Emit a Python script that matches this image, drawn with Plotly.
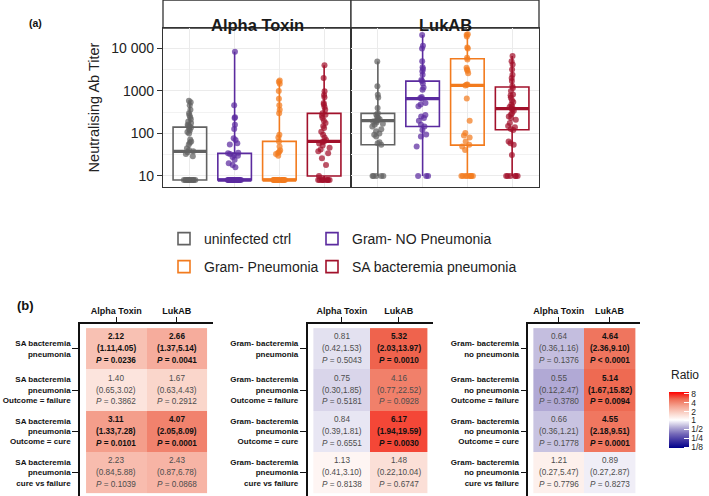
import math
import plotly.graph_objects as go

W, H = 709, 496

# ---------------- Panel (a) data ----------------
groups = ["uninfected ctrl", "Gram- NO Pneumonia", "Gram- Pneumonia", "SA bacteremia pneumonia"]
group_colors = ["#626262", "#5b2b9f", "#f27b1e", "#a2112b"]
facets = ["Alpha Toxin", "LukAB"]

at_uninfected = [8, 8, 8, 8, 8, 8, 8, 8, 8, 8, 8, 8, 29, 33, 36, 38, 41, 45, 55, 60, 65, 72,
                 100, 108, 118, 128, 137, 146, 150, 160, 175, 190, 215, 240, 267, 300, 360, 460, 540, 590]
at_gramneg_nopneu = [8, 8, 8, 8, 8, 8, 8, 8, 8, 8, 8, 8, 8, 8, 8, 8, 8, 8, 8, 8, 8,
                     16, 18, 20, 24, 28, 30, 31, 33, 34, 35, 55, 59, 70, 77, 128, 160, 230, 240, 460, 8300]
at_gramneg_pneu = [8, 8, 8, 8, 8, 8, 8, 8, 8, 8, 8, 8, 8, 8, 8, 8,
                   30, 33, 35, 37, 40, 49, 65, 80, 93, 300, 360, 460, 650, 1000, 1470, 1650, 1750]
at_sa_pneu = [8, 8, 8, 8, 8, 8, 8, 8, 8, 10, 18, 26, 34, 38, 42, 46, 52, 58, 63, 65, 70, 80, 93,
              110, 134, 150, 175, 200, 230, 260, 275, 300, 360, 420, 480, 520, 710, 800, 980, 2000, 4000]

luk_uninfected = [10, 10, 10, 10, 10, 54, 59, 62, 85, 93, 100, 112, 125, 146, 160, 170, 180, 190,
                  200, 205, 215, 230, 250, 275, 300, 395, 700, 810, 1290, 4900]
luk_gramneg_nopneu = [10, 10, 10, 49, 85, 95, 120, 146, 160, 200, 230, 250, 270, 435, 480, 520, 650,
                      680, 720, 1070, 1200, 1500, 1700, 1800, 2400, 2900, 3300, 3600, 5000, 10000,
                      11500, 20600]
luk_gramneg_pneu = [10, 10, 10, 10, 10, 10, 10, 10, 41, 49, 54, 65, 80, 90, 102, 200, 660, 1350, 1400,
                    1410, 2600, 3000, 3200, 3500, 5500, 6000, 10000, 10500, 19000, 21000, 21500]
luk_sa_pneu = [10, 10, 10, 10, 10, 10, 31, 54, 59, 65, 120, 128, 140, 150, 175, 210, 230, 250, 280,
               300, 340, 370, 390, 420, 435, 480, 550, 600, 700, 780, 820, 1000, 1170, 1300, 1700,
               2000, 2400, 3200, 4200, 5000, 6600]

# box statistics (as drawn, computed on log scale) per group
at_q1 = [8, 8, 8, 10]
at_median = [38, 8, 8, 65]
at_q3 = [141, 34, 65, 296]
at_lower = [8, 8, 8, 8]
at_upper = [590, 8300, 1750, 4000]

luk_q1 = [54, 145, 53, 122]
luk_median = [200, 660, 1350, 385]
luk_q3 = [296, 1700, 5700, 1240]
luk_lower = [10, 10, 10, 10]
luk_upper = [4900, 20600, 21500, 6600]

thresholds = [16, 20]

y_tickvals = [10, 100, 1000, 10000]
y_ticktext = ["10", "100", "1000", "10 000"]
y_minor = [31.6, 316, 3162]

# ---------------- Panel (b) data ----------------
hm_cols = ["Alpha Toxin", "LukAB"]

sa_rows = ["SA bacteremia<br>pneumonia",
           "SA bacteremia<br>pneumonia<br>Outcome = failure",
           "SA bacteremia<br>pneumonia<br>Outcome = cure",
           "SA bacteremia<br>pneumonia<br>cure vs failure"]
sa_ratio = [[2.12, 2.66], [1.40, 1.67], [3.11, 4.07], [2.23, 2.43]]
sa_lo = [[1.11, 1.37], [0.65, 0.63], [1.33, 2.05], [0.84, 0.87]]
sa_hi = [[4.05, 5.14], [3.02, 4.43], [7.28, 8.09], [5.88, 6.78]]
sa_p = [[0.0236, 0.0041], [0.3862, 0.2912], [0.0101, 0.0001], [0.1039, 0.0868]]

gp_rows = ["Gram- bacteremia<br>pneumonia",
           "Gram- bacteremia<br>pneumonia<br>Outcome = failure",
           "Gram- bacteremia<br>pneumonia<br>Outcome = cure",
           "Gram- bacteremia<br>pneumonia<br>cure vs failure"]
gp_ratio = [[0.81, 5.32], [0.75, 4.16], [0.84, 6.17], [1.13, 1.48]]
gp_lo = [[0.42, 2.03], [0.30, 0.77], [0.39, 1.94], [0.41, 0.22]]
gp_hi = [[1.53, 13.97], [1.85, 22.52], [1.81, 19.59], [3.10, 10.04]]
gp_p = [[0.5043, 0.0010], [0.5181, 0.0928], [0.6551, 0.0030], [0.8138, 0.6747]]

gn_rows = ["Gram- bacteremia<br>no pneumonia",
           "Gram- bacteremia<br>no pneumonia<br>Outcome = failure",
           "Gram- bacteremia<br>no pneumonia<br>Outcome = cure",
           "Gram- bacteremia<br>no pneumonia<br>cure vs failure"]
gn_ratio = [[0.64, 4.64], [0.55, 5.14], [0.66, 4.55], [1.21, 0.89]]
gn_lo = [[0.36, 2.36], [0.12, 1.67], [0.36, 2.18], [0.27, 0.27]]
gn_hi = [[1.16, 9.10], [2.47, 15.82], [1.21, 9.51], [5.47, 2.87]]
gn_p = [[0.1376, 0.00005], [0.3780, 0.0094], [0.1778, 0.0001], [0.7796, 0.8273]]

ratio_ticks = [8, 4, 2, 1, 1 / 2, 1 / 4, 1 / 8]
ratio_ticktext = ["8", "4", "2", "1", "1/2", "1/4", "1/8"]

# ---------------- figure ----------------
FONT = "Liberation Sans, Arial, Helvetica, sans-serif"

fig = go.Figure()

facet_points = [
    [at_uninfected, at_gramneg_nopneu, at_gramneg_pneu, at_sa_pneu],
    [luk_uninfected, luk_gramneg_nopneu, luk_gramneg_pneu, luk_sa_pneu],
]
facet_stats = [
    (at_q1, at_median, at_q3, at_lower, at_upper),
    (luk_q1, luk_median, luk_q3, luk_lower, luk_upper),
]
axis_pairs = [("x", "y"), ("x2", "y2")]
legend_ids = ["legend", "legend2", "legend3", "legend4"]

for fi, (xa, ya) in enumerate(axis_pairs):
    q1, med, q3, lo, hi = facet_stats[fi]
    for gi, g in enumerate(groups):
        col = group_colors[gi]
        # box (precomputed stats)
        fig.add_trace(go.Box(
            x=[g], q1=[q1[gi]], median=[med[gi]], q3=[q3[gi]],
            lowerfence=[lo[gi]], upperfence=[hi[gi]],
            xaxis=xa, yaxis=ya, name=g, legendgroup=g, legend=legend_ids[gi],
            showlegend=(fi == 0), boxpoints=False, width=0.75, whiskerwidth=0,
            line=dict(color=col, width=1.6), fillcolor="rgba(255,255,255,0)",
            hoverinfo="skip",
        ))
        # thicker median line
        fig.add_trace(go.Box(
            x=[g], q1=[med[gi]], median=[med[gi]], q3=[med[gi]],
            lowerfence=[med[gi]], upperfence=[med[gi]],
            xaxis=xa, yaxis=ya, name=g, legendgroup=g, showlegend=False,
            boxpoints=False, width=0.75, whiskerwidth=0,
            line=dict(color=col, width=3.2), fillcolor="rgba(255,255,255,0)",
            hoverinfo="skip",
        ))
        # jittered points
        pts = facet_points[fi][gi]
        fig.add_trace(go.Box(
            x=[g] * len(pts), y=pts, xaxis=xa, yaxis=ya, name=g, legendgroup=g,
            showlegend=False, boxpoints="all", jitter=0.42, pointpos=0, width=0.75,
            line=dict(color="rgba(0,0,0,0)", width=0), fillcolor="rgba(0,0,0,0)",
            marker=dict(color=col, size=6, opacity=0.72, line=dict(width=0)),
            hoveron="points",
        ))


def hm_block(rows, ratio, lo, hi, p, xa, ya, showscale):
    z = [[math.log2(v) for v in r] for r in ratio]
    fig.add_trace(go.Heatmap(
        z=z, x=hm_cols, y=rows, xaxis=xa, yaxis=ya,
        colorscale=[
            [0.0, "#00008B"], [0.125, "#3B30A0"], [0.25, "#7468B8"], [0.375, "#B7B0D8"],
            [0.5, "#FFFFFF"], [0.625, "#FAD3C8"], [0.75, "#F5A290"], [0.875, "#EE6A52"],
            [1.0, "#FF0000"]],
        zmin=-3.15, zmax=3.15, showscale=showscale, hoverinfo="skip",
        colorbar=dict(
            x=(669 - 10) / W, xanchor="left", y=1 - 420.5 / H, yanchor="middle",
            len=56, lenmode="pixels", thickness=20, thicknessmode="pixels",
            outlinewidth=0, ticks="inside", tickcolor="white", ticklen=5, ypad=0,
            tickvals=[math.log2(t) for t in ratio_ticks], ticktext=ratio_ticktext,
            tickfont=dict(size=8.5, family=FONT, color="#222"),
        ),
    ))
    for ri, rname in enumerate(rows):
        for ci, cname in enumerate(hm_cols):
            pv = p[ri][ci]
            sig = pv < 0.05
            ptxt = "<i>P</i> < 0.0001" if pv < 0.0001 else "<i>P</i> = %.4f" % pv
            lines = ["%.2f" % ratio[ri][ci],
                     "(%.2f,%.2f)" % (lo[ri][ci], hi[ri][ci]),
                     ptxt]
            for li, t in enumerate(lines):
                fig.add_annotation(
                    x=cname, y=rname, xref=xa, yref=ya,
                    text=("<b>%s</b>" % t) if sig else t,
                    showarrow=False, yshift=11.8 - 11.8 * li,
                    font=dict(size=8.2, family=FONT, color="#111" if sig else "#4d4d4d"),
                )


hm_block(sa_rows, sa_ratio, sa_lo, sa_hi, sa_p, "x3", "y3", True)
hm_block(gp_rows, gp_ratio, gp_lo, gp_hi, gp_p, "x4", "y4", False)
hm_block(gn_rows, gn_ratio, gn_lo, gn_hi, gn_p, "x5", "y5", False)

# ---------------- layout ----------------
grid_col = "#EBEBEB"
border = "#333333"

common_x = dict(type="category", categoryorder="array", categoryarray=groups,
                range=[-0.6, 3.6], showticklabels=False, ticks="", automargin=False,
                showgrid=True, gridcolor=grid_col, gridwidth=1,
                showline=True, mirror=True, linecolor=border, linewidth=1.3,
                zeroline=False, fixedrange=True)
common_y = dict(type="log", range=[0.74, 4.48], tickvals=y_tickvals, ticktext=y_ticktext,
                showgrid=True, gridcolor=grid_col, gridwidth=1.1, automargin=False,
                minor=dict(tickvals=y_minor, showgrid=True, gridcolor="#F2F2F2", gridwidth=0.6),
                showline=True, mirror=True, linecolor=border, linewidth=1.3,
                zeroline=False, fixedrange=True)

ya_dom = [1 - 187 / H, 1 - 28 / H]
hm_y_dom = [0, 1 - 324 / H]


def hm_x(dom):
    return dict(domain=dom, side="top", type="category", categoryorder="array",
                categoryarray=hm_cols, range=[-0.6, 1.6], ticks="outside", ticklen=5,
                tickwidth=1.3, tickcolor="#111", showline=True, linecolor="#111", linewidth=1.6,
                showgrid=False, zeroline=False, fixedrange=True, automargin=False,
                tickfont=dict(size=9, family=FONT, color="#111", weight="bold"))


def hm_y(dom, xa):
    return dict(domain=dom, anchor=xa, type="category", range=[3.57, -0.6], ticks="outside",
                ticklen=6, tickwidth=1.3, tickcolor="#111", showline=True, linecolor="#111",
                linewidth=1.6, showgrid=False, zeroline=False, fixedrange=True, automargin=False,
                tickfont=dict(size=8, family=FONT, color="#111", weight="bold"))


leg_common = dict(orientation="h", xanchor="left", yanchor="middle",
                  font=dict(size=14, color="#222", family=FONT),
                  bgcolor="rgba(0,0,0,0)", itemclick=False, itemdoubleclick=False)

fig.update_layout(
    width=W, height=H, autosize=False,
    margin=dict(l=0, r=0, t=0, b=0, autoexpand=False),
    paper_bgcolor="white", plot_bgcolor="white",
    font=dict(family=FONT, color="#222"),
    boxmode="overlay",
    xaxis=dict(common_x, domain=[163 / W, 351 / W], anchor="y"),
    xaxis2=dict(common_x, domain=[351 / W, 539 / W], anchor="y2"),
    yaxis=dict(common_y, domain=ya_dom, anchor="x", ticks="outside", ticklen=5,
               tickcolor=border, tickfont=dict(size=14, color="#222"),
               title=dict(text="Neutralising Ab Titer", font=dict(size=14.5, color="#222"),
                          standoff=8)),
    yaxis2=dict(common_y, domain=ya_dom, anchor="x2", matches="y", showticklabels=False,
                ticks=""),
    xaxis3=dict(hm_x([80 / W, 213 / W]), anchor="y3"),
    yaxis3=hm_y(hm_y_dom, "x3"),
    xaxis4=dict(hm_x([307.7 / W, 433 / W]), anchor="y4"),
    yaxis4=hm_y(hm_y_dom, "x4"),
    xaxis5=dict(hm_x([528.3 / W, 640 / W]), anchor="y5"),
    yaxis5=hm_y(hm_y_dom, "x5"),
    legend=dict(leg_common, x=164 / W, y=1 - 239 / H),
    legend2=dict(leg_common, x=312 / W, y=1 - 239 / H),
    legend3=dict(leg_common, x=164 / W, y=1 - 267 / H),
    legend4=dict(leg_common, x=312 / W, y=1 - 267 / H),
)

# dashed detection thresholds
for fi, (xa, ya) in enumerate(axis_pairs):
    fig.add_shape(type="line", xref=xa + " domain", yref=ya, x0=0, x1=1,
                  y0=math.log10(thresholds[fi]), y1=math.log10(thresholds[fi]),
                  line=dict(color="black", width=1.6, dash="dash"))

# facet strips
strip_x = [(163, 351), (351, 539)]
for (x0, x1), name in zip(strip_x, facets):
    fig.add_shape(type="rect", xref="paper", yref="paper", x0=x0 / W, x1=x1 / W,
                  y0=1 - 28 / H, y1=1.0, fillcolor="white", line=dict(color=border, width=1.3),
                  layer="below")
    fig.add_annotation(xref="paper", yref="paper", x=(x0 + x1) / 2 / W, y=1 - 14 / H,
                       text="<b>%s</b>" % name, showarrow=False,
                       font=dict(size=16.5, color="#1a1a1a"))

fig.add_annotation(xref="paper", yref="paper", x=27 / W, y=1 - 15 / H, xanchor="left",
                   text="<b>(a)</b>", showarrow=False, font=dict(size=10.5, color="#111"))
fig.add_annotation(xref="paper", yref="paper", x=15 / W, y=1 - 305 / H, xanchor="left",
                   text="<b>(b)</b>", showarrow=False, font=dict(size=13, color="#111"))
fig.add_annotation(xref="paper", yref="paper", x=669 / W, y=1 - 384 / H, xanchor="left",
                   text="Ratio", showarrow=False, font=dict(size=12, color="#222"))

fig.write_html("out.html", config={"displayModeBar": False},
               post_script="document.body.style.margin='0';")
